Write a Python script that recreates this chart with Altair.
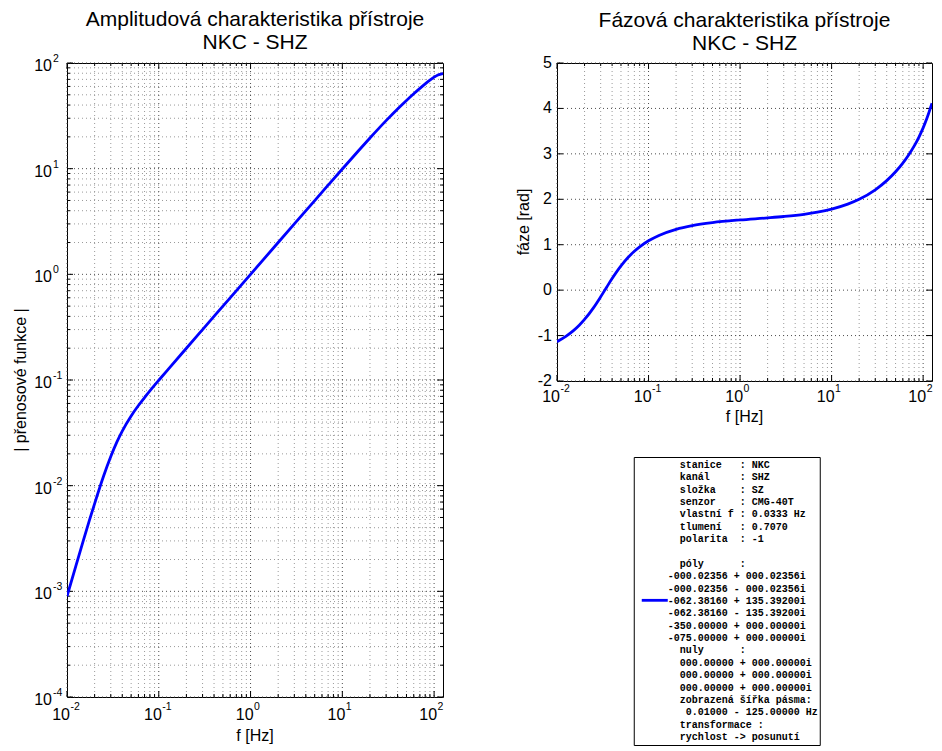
import altair as alt
import pandas as pd

# ---- data ----
freq = [0.01, 0.0125, 0.015, 0.0175, 0.02, 0.025, 0.03, 0.035, 0.04, 0.05, 0.06, 0.07,
        0.08, 0.1, 0.13, 0.2, 0.3, 0.5, 1, 2, 3, 5, 7, 10, 15, 20, 30, 40, 50, 60, 70,
        80, 90, 100, 110, 125]
amplitude = [0.000896, 0.001744, 0.002983, 0.004659, 0.006774, 0.01228, 0.01888, 0.02595,
             0.03288, 0.04571, 0.05734, 0.06827, 0.07883, 0.0994, 0.1297, 0.1999, 0.3, 0.5,
             1.0, 1.9995, 2.998, 4.992, 6.978, 9.937, 14.79, 19.52, 28.49, 36.73, 44.24,
             51.13, 57.48, 63.36, 68.73, 73.40, 77.03, 79.48]
phase = [-1.134, -1.017, -0.897, -0.772, -0.645, -0.390, -0.147, 0.070, 0.255, 0.534,
         0.723, 0.855, 0.952, 1.086, 1.204, 1.338, 1.420, 1.487, 1.546, 1.591, 1.621,
         1.670, 1.717, 1.784, 1.893, 2.000, 2.209, 2.411, 2.606, 2.797, 2.986, 3.175,
         3.370, 3.572, 3.783, 4.115]

x_decades = [0.01, 0.1, 1, 10, 100]
x_exponents = ["-2", "-1", "0", "1", "2"]
amp_decades = [0.0001, 0.001, 0.01, 0.1, 1, 10, 100]
amp_exponents = ["-4", "-3", "-2", "-1", "0", "1", "2"]
phase_ticks = [-2, -1, 0, 1, 2, 3, 4, 5]
phase_labels = ["-2", "-1", "0", "1", "2", "3", "4", "5"]
x_minor = [k * 10.0 ** e for e in range(-2, 2) for k in range(2, 10)]
amp_minor = [k * 10.0 ** e for e in range(-4, 2) for k in range(2, 10)]

title_amp = ["Amplitudová charakteristika přístroje", "NKC - SHZ"]
title_phase = ["Fázová charakteristika přístroje", "NKC - SHZ"]
xlabel = "f [Hz]"
ylabel_amp = "| přenosové funkce |"
ylabel_phase = "fáze [rad]"

legend_lines = [
    "  stanice   : NKC",
    "  kanál     : SHZ",
    "  složka    : SZ",
    "  senzor    : CMG-40T",
    "  vlastní f : 0.0333 Hz",
    "  tlumení   : 0.7070",
    "  polarita  : -1",
    "",
    "  póly      :",
    "-000.02356 + 000.02356i",
    "-000.02356 - 000.02356i",
    "-062.38160 + 135.39200i",
    "-062.38160 - 135.39200i",
    "-350.00000 + 000.00000i",
    "-075.00000 + 000.00000i",
    "  nuly      :",
    "  000.00000 + 000.00000i",
    "  000.00000 + 000.00000i",
    "  000.00000 + 000.00000i",
    "  zobrazená šířka pásma:",
    "   0.01000 - 125.00000 Hz",
    "  transformace :",
    "  rychlost -> posunutí",
]
legend_sample_row = 11

# ---- styling ----
FONT = "Liberation Sans"
MONO = "Liberation Mono"
BLUE = "#0000ff"
MAJOR = "#4d4d4d"
MINOR = "#9a9a9a"
W1, H1 = 376, 634
W2, H2 = 375, 318
WL, HL = 186, 288

df = pd.DataFrame({"f": freq, "amp": amplitude, "phase": phase})
xs = alt.Scale(type="log", domain=[0.01, 125], nice=False)
ys_amp = alt.Scale(type="log", domain=[0.0001, 100], nice=False)
ys_ph = alt.Scale(type="linear", domain=[-2, 5], nice=False, zero=False)


def vgrid(vals, scale, color):
    return alt.Chart(pd.DataFrame({"v": vals})).mark_rule(
        color=color, strokeDash=[1, 3], strokeWidth=1
    ).encode(x=alt.X("v:Q", scale=scale, axis=None))


def hgrid(vals, scale, color):
    return alt.Chart(pd.DataFrame({"v": vals})).mark_rule(
        color=color, strokeDash=[1, 3], strokeWidth=1
    ).encode(y=alt.Y("v:Q", scale=scale, axis=None))


def xticks(vals, scale, H, L):
    d = pd.DataFrame({"v": vals})
    bottom = alt.Chart(d).mark_rule(color="black").encode(
        x=alt.X("v:Q", scale=scale, axis=None), y=alt.value(H), y2=alt.value(H - L))
    top = alt.Chart(d).mark_rule(color="black").encode(
        x=alt.X("v:Q", scale=scale, axis=None), y=alt.value(0), y2=alt.value(L))
    return [bottom, top]


def yticks(vals, scale, W, L):
    d = pd.DataFrame({"v": vals})
    left = alt.Chart(d).mark_rule(color="black").encode(
        y=alt.Y("v:Q", scale=scale, axis=None), x=alt.value(0), x2=alt.value(L))
    right = alt.Chart(d).mark_rule(color="black").encode(
        y=alt.Y("v:Q", scale=scale, axis=None), x=alt.value(W), x2=alt.value(W - L))
    return [left, right]


def xlabels(scale, H, off):
    d = pd.DataFrame({"v": x_decades, "e": x_exponents})
    base = alt.Chart(d).mark_text(
        font=FONT, fontSize=16, align="right", baseline="middle", dx=3, color="black", text="10"
    ).encode(x=alt.X("v:Q", scale=scale, axis=None), y=alt.value(H + off))
    exp = alt.Chart(d).mark_text(
        font=FONT, fontSize=10.5, align="left", baseline="middle", dx=3.5, color="black"
    ).encode(x=alt.X("v:Q", scale=scale, axis=None), y=alt.value(H + off - 8), text="e:N")
    return [base, exp]


def ylabels_log(scale):
    d = pd.DataFrame({"v": amp_decades, "e": amp_exponents})
    base = alt.Chart(d).mark_text(
        font=FONT, fontSize=16, align="right", baseline="middle", dy=3, color="black", text="10"
    ).encode(y=alt.Y("v:Q", scale=scale, axis=None), x=alt.value(-15))
    exp = alt.Chart(d).mark_text(
        font=FONT, fontSize=10.5, align="left", baseline="middle", dy=-4, color="black"
    ).encode(y=alt.Y("v:Q", scale=scale, axis=None), x=alt.value(-14), text="e:N")
    return [base, exp]


def ylabels_lin(scale):
    d = pd.DataFrame({"v": phase_ticks, "t": phase_labels})
    return alt.Chart(d).mark_text(
        font=FONT, fontSize=16, align="right", baseline="middle", color="black"
    ).encode(y=alt.Y("v:Q", scale=scale, axis=None), x=alt.value(-5), text="t:N")


def axis_title(text, x, y, angle=0):
    return alt.Chart(pd.DataFrame({"t": [text]})).mark_text(
        font=FONT, fontSize=16, align="center", baseline="middle", color="black", angle=angle
    ).encode(x=alt.value(x), y=alt.value(y), text="t:N")


# ---- amplitude panel ----
amp_curve = alt.Chart(df).mark_line(
    color=BLUE, strokeWidth=2.8, interpolate="monotone", clip=True
).encode(
    x=alt.X("f:Q", scale=xs, axis=None),
    y=alt.Y("amp:Q", scale=ys_amp, axis=None),
)

amp_layers = [
    vgrid(x_minor, xs, MINOR), hgrid(amp_minor, ys_amp, MINOR),
    vgrid(x_decades, xs, MAJOR), hgrid(amp_decades, ys_amp, MAJOR),
    *xticks(x_minor, xs, H1, 3), *xticks(x_decades, xs, H1, 6),
    *yticks(amp_minor, ys_amp, W1, 3), *yticks(amp_decades, ys_amp, W1, 6),
    amp_curve, *xlabels(xs, H1, 18), *ylabels_log(ys_amp),
    axis_title(xlabel, W1 / 2, H1 + 39),
    axis_title(ylabel_amp, -46, H1 / 2, angle=270),
]
amp_chart = alt.layer(*amp_layers).properties(
    width=W1, height=H1,
    title=alt.TitleParams(title_amp, fontSize=21, lineHeight=23, offset=1, anchor="middle"),
)

# ---- phase panel ----
ph_curve = alt.Chart(df).mark_line(
    color=BLUE, strokeWidth=2.8, interpolate="monotone", clip=True
).encode(
    x=alt.X("f:Q", scale=xs, axis=None),
    y=alt.Y("phase:Q", scale=ys_ph, axis=None),
)
ph_layers = [
    vgrid(x_minor, xs, MINOR), vgrid(x_decades, xs, MAJOR), hgrid(phase_ticks, ys_ph, MAJOR),
    *xticks(x_minor, xs, H2, 3), *xticks(x_decades, xs, H2, 6),
    *yticks(phase_ticks, ys_ph, W2, 6),
    ph_curve, *xlabels(xs, H2, 16), ylabels_lin(ys_ph),
    axis_title(xlabel, W2 / 2, H2 + 36),
    axis_title(ylabel_phase, -33, H2 / 2, angle=270),
]
ph_chart = alt.layer(*ph_layers).properties(
    width=W2, height=H2,
    title=alt.TitleParams(title_phase, fontSize=21, lineHeight=23, offset=1, anchor="middle"),
)

# ---- legend box ----
ZW = "\u200b"
leg_df = pd.DataFrame({
    "i": list(range(len(legend_lines))),
    "t": [ZW + s.replace(" ", "\u00a0") for s in legend_lines],
    "n": [len(s) for s in legend_lines],
})
leg_scale = alt.Scale(domain=[-0.89, 22.4], reverse=True, nice=False, zero=False)
leg_text = alt.Chart(leg_df).transform_filter("datum.n > 0").mark_text(
    font=MONO, fontSize=10, fontWeight="bold", align="left", baseline="alphabetic", color="black"
).encode(x=alt.value(34), y=alt.Y("i:Q", scale=leg_scale, axis=None), text="t:N")
leg_sample = alt.Chart(pd.DataFrame({"i": [legend_sample_row]})).transform_calculate(
    yy="datum.i - 0.3"
).mark_rule(color=BLUE, strokeWidth=2.8).encode(
    x=alt.value(8), x2=alt.value(34), y=alt.Y("yy:Q", scale=leg_scale, axis=None))
# invisible spacer that widens the legend's bounds so the centred box sits where it should
leg_spacer = alt.Chart(pd.DataFrame({"i": [legend_sample_row]})).mark_rule(
    opacity=0, strokeWidth=1
).encode(x=alt.value(WL), x2=alt.value(WL + 36), y=alt.Y("i:Q", scale=leg_scale, axis=None))
legend = alt.layer(leg_sample, leg_text, leg_spacer).properties(width=WL, height=HL)

right_col = alt.vconcat(ph_chart, legend, spacing=30, center=True)
chart = alt.hconcat(amp_chart, right_col, spacing=71).properties(
    padding={"left": 4, "top": 0, "right": 0, "bottom": 0}
).configure_view(stroke="black", strokeWidth=1).configure_title(
    font=FONT, fontWeight="normal", color="black"
)

chart.save("out.html", embed_options={"renderer": "svg", "actions": False})
